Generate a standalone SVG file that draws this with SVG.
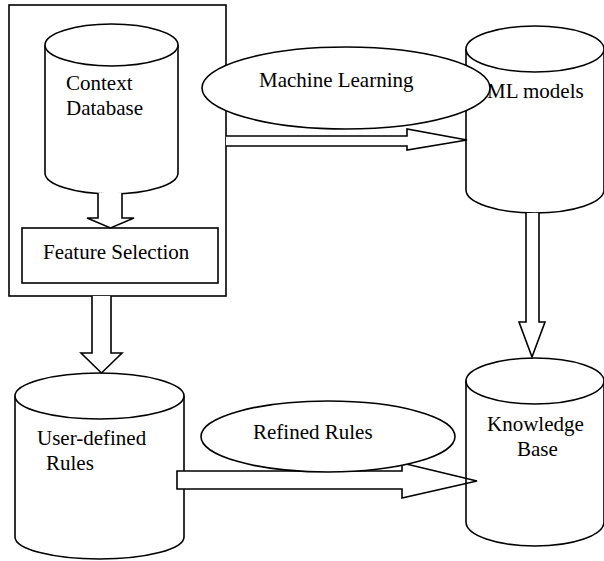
<svg xmlns="http://www.w3.org/2000/svg" width="604" height="561" viewBox="0 0 604 561">
<style>
.s{fill:#fff;stroke:#000;stroke-width:1.6}
.n{fill:none;stroke:#000;stroke-width:1.6}
.t{font-family:"Liberation Serif","Times New Roman",serif;font-size:21px;fill:#000}
</style>
<rect width="604" height="561" fill="#fff"/>
<g id="outer-box"><rect class="s" x="9" y="5" width="217" height="291"/></g>
<g id="context-db">
<path class="s" d="M45,45 L45,173 A66.5,21 0 0 0 178,173 L178,45"/>
<ellipse class="s" cx="111.5" cy="45" rx="66.5" ry="21"/>
<text class="t" x="66" y="90">Context</text>
<text class="t" x="66" y="115">Database</text>
</g>
<g id="feature-selection">
<rect class="s" x="22" y="228" width="196" height="55"/>
<text class="t" x="43" y="259">Feature Selection</text>
</g>
<g id="user-rules">
<path class="s" d="M15,396 L15,537 A84.5,22 0 0 0 184,537 L184,396"/>
<ellipse class="s" cx="99.5" cy="396" rx="84.5" ry="23"/>
<text class="t" x="37" y="445">User-defined</text>
<text class="t" x="46" y="470">Rules</text>
</g>
<g id="ml-models">
<path class="s" d="M466,49 L466,190 A69,23 0 0 0 604,190 L604,49"/>
<ellipse class="s" cx="535" cy="49" rx="69" ry="23"/>
<text class="t" x="487" y="98">ML models</text>
</g>
<g id="connectors">
<path class="s" d="M98,193 L98,218 L87,218 L110.5,228 L134,218 L122,218 L122,193"/>
<path class="s" d="M92,296 L92,353 L81,353 L101.5,373 L122,353 L111,353 L111,296"/>
<path class="s" d="M226,136 L407,136 L407,129 L467,140 L407,150 L407,146 L226,146"/>
<path class="s" d="M526,213 L526,322 L519,322 L532,357 L545,322 L539,322 L539,213"/>
<path class="s" d="M177,471 L402,471 L402,463 L477,481 L402,498 L402,489 L177,489 Z"/>
</g>
<g id="knowledge-base">
<path class="n" d="M466,381 L466,522 A69,24 0 0 0 604,522 L604,381"/>
<ellipse class="n" cx="535" cy="381" rx="69" ry="23"/>
<text class="t" x="487" y="431">Knowledge</text>
<text class="t" x="517" y="456">Base</text>
</g>
<g id="machine-learning">
<ellipse class="s" cx="346" cy="88" rx="144" ry="41"/>
<text class="t" x="259" y="87">Machine Learning</text>
</g>
<g id="refined-rules">
<ellipse class="s" cx="328" cy="436.5" rx="127" ry="35.5"/>
<text class="t" x="253" y="439">Refined Rules</text>
</g>
</svg>
